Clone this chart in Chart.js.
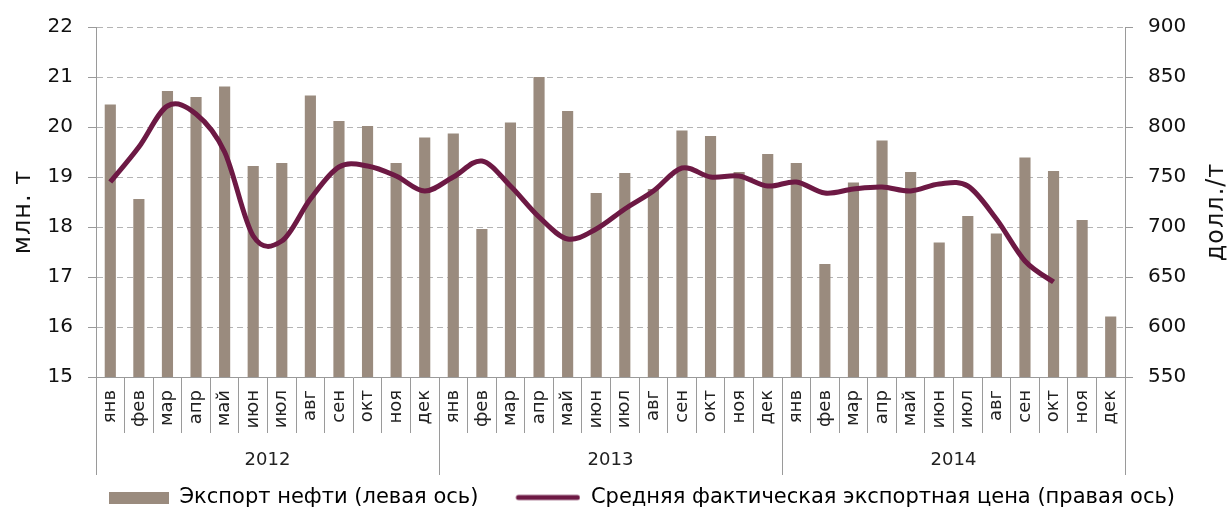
<!DOCTYPE html>
<html>
<head>
<meta charset="utf-8">
<script src="https://cdn.jsdelivr.net/npm/chart.js@4/dist/chart.umd.min.js"></script>
<style>
    html, body { margin: 0; padding: 0; background: #fff; }
</style>
</head>
<body>
<canvas id="oilChart" width="1232" height="515"></canvas>
<script>
const months = ['янв', 'фев', 'мар', 'апр', 'май', 'июн', 'июл', 'авг', 'сен', 'окт', 'ноя', 'дек'];
const years = ['2012', '2013', '2014'];

// экспорт нефти, млн. т (левая ось)
const exportVolume = [
    20.45, 18.56, 20.72, 20.60, 20.81, 19.22, 19.28, 20.63, 20.12, 20.02, 19.28, 19.79,
    19.87, 17.96, 20.09, 21.00, 20.32, 18.68, 19.08, 18.76, 19.93, 19.82, 19.10, 19.46,
    19.28, 17.26, 18.89, 19.73, 19.10, 17.69, 18.22, 17.87, 19.39, 19.12, 18.14, 16.21
];

// средняя фактическая экспортная цена, долл./т (правая ось)
const exportPrice = [
    745, 780, 821, 813, 775, 691, 686, 728, 760, 761, 751, 736,
    750, 766, 741, 710, 688, 698, 718, 736, 759, 750, 751, 741,
    745, 734, 738, 740, 736, 743, 741, 708, 666, 645, null, null
];

const leftAxis = { min: 15, max: 22, step: 1, title: 'млн. т' };
const rightAxis = { min: 550, max: 900, step: 50, title: 'долл./т' };
const seriesNames = ['Экспорт нефти (левая ось)', 'Средняя фактическая экспортная цена (правая ось)'];

const labels = years.flatMap(() => months);

const FONT = 'DejaVu Sans';
const barColor = '#9a8b7e';
const lineColor = '#6d1944';
const axisColor = '#9a9a9a';

// legend icons
function makeIcon(kind) {
    const c = document.createElement('canvas');
    c.width = 92;
    c.height = 12;
    const g = c.getContext('2d');
    if (kind === 'bar') {
        g.fillStyle = barColor;
        g.fillRect(32, 0, 60, 12);
    } else {
        g.strokeStyle = lineColor;
        g.lineWidth = 5;
        g.lineCap = 'round';
        g.beginPath();
        g.moveTo(30, 6);
        g.lineTo(89, 6);
        g.stroke();
    }
    return c;
}
const barIcon = makeIcon('bar');
const lineIcon = makeIcon('line');

// smoothing like the office charts: uniform catmull-rom control points
const smoothPlugin = {
    id: 'smooth',
    beforeDatasetDraw(chart, args) {
        const meta = args.meta;
        if (meta.type !== 'line') return;
        const line = meta.dataset;
        line.updateControlPoints(chart.chartArea);
        const pts = meta.data.filter(p => !p.skip);
        pts.forEach((p, i) => {
            const a = pts[i - 1] || p;
            const b = pts[i + 1] || p;
            const dx = (b.x - a.x) / 6;
            const dy = (b.y - a.y) / 6;
            p.cp1x = p.x - dx;
            p.cp1y = p.y - dy;
            p.cp2x = p.x + dx;
            p.cp2y = p.y + dy;
        });
        line._path = undefined;
    }
};

const framePlugin = {
    id: 'frame',
    afterDraw(chart) {
        const ctx = chart.ctx;
        const area = chart.chartArea;
        const n = labels.length;
        const step = (area.right - area.left) / n;
        const bottom = area.bottom + 98;

        ctx.save();
        ctx.strokeStyle = axisColor;
        ctx.lineWidth = 1;
        for (let k = 0; k <= n; k += months.length) {
            const x = Math.round(area.left + k * step) + 0.5;
            ctx.beginPath();
            ctx.moveTo(x, area.bottom);
            ctx.lineTo(x, bottom);
            ctx.stroke();
        }

        ctx.fillStyle = '#222';
        ctx.font = '18px "' + FONT + '"';
        ctx.textAlign = 'center';
        ctx.textBaseline = 'middle';
        years.forEach((y, i) => {
            const x = area.left + (i * months.length + months.length / 2) * step;
            ctx.fillText(y, x, area.bottom + 83);
        });

        // axis titles, both read from bottom to top
        ctx.fillStyle = '#111';
        ctx.font = '24px "' + FONT + '"';
        ctx.letterSpacing = '1px';
        ctx.textBaseline = 'alphabetic';
        const midY = (area.top + area.bottom) / 2 + 10;
        [[30, leftAxis.title], [1223, rightAxis.title]].forEach(([x, t]) => {
            ctx.save();
            ctx.translate(x, midY);
            ctx.rotate(-Math.PI / 2);
            ctx.fillText(t, 0, 0);
            ctx.restore();
        });
        ctx.restore();
    }
};

new Chart(document.getElementById('oilChart'), {
    type: 'bar',
    data: {
        labels: labels,
        datasets: [{
            type: 'bar',
            label: seriesNames[0],
            data: exportVolume,
            yAxisID: 'y',
            backgroundColor: barColor,
            categoryPercentage: 1,
            barPercentage: 0.39,
            order: 1
        }, {
            type: 'line',
            label: seriesNames[1],
            data: exportPrice,
            yAxisID: 'y2',
            borderColor: lineColor,
            borderWidth: 5,
            tension: 0.33,
            pointRadius: 0,
            fill: false,
            order: 0
        }]
    },
    options: {
        responsive: false,
        devicePixelRatio: 1,
        animation: false,
        layout: { padding: { top: 22, left: 20, right: 0, bottom: -3 } },
        plugins: {
            tooltip: { enabled: false },
            legend: {
                position: 'bottom',
                labels: {
                    usePointStyle: true,
                    pointStyleWidth: 92,
                    padding: 10,
                    color: '#111',
                    font: { family: FONT, size: 21 },
                    generateLabels: () => [
                        { text: seriesNames[0], pointStyle: barIcon, datasetIndex: 0, hidden: false, lineWidth: 0 },
                        { text: seriesNames[1], pointStyle: lineIcon, datasetIndex: 1, hidden: false, lineWidth: 0 }
                    ]
                }
            }
        },
        scales: {
            x: {
                offset: true,
                grid: {
                    offset: true,
                    drawOnChartArea: false,
                    tickLength: 56,
                    color: axisColor
                },
                border: { color: axisColor },
                ticks: {
                    autoSkip: false,
                    minRotation: 90,
                    maxRotation: 90,
                    padding: -43,
                    color: '#222',
                    font: { family: FONT, size: 18 }
                },
                afterFit(scale) { scale.height = 100; }
            },
            y: {
                position: 'left',
                min: leftAxis.min,
                max: leftAxis.max,
                ticks: {
                    stepSize: leftAxis.step,
                    padding: 15,
                    color: '#111',
                    font: { family: FONT, size: 20 }
                },
                grid: { color: '#b4b4b4', tickLength: 8, tickColor: axisColor },
                border: { color: axisColor, dash: [6, 4] },
                afterFit(scale) { scale.width = 76; }
            },
            y2: {
                position: 'right',
                min: rightAxis.min,
                max: rightAxis.max,
                ticks: {
                    stepSize: rightAxis.step,
                    padding: 15,
                    color: '#111',
                    font: { family: FONT, size: 20 }
                },
                grid: { drawOnChartArea: false, tickLength: 8, color: axisColor },
                border: { color: axisColor },
                afterFit(scale) { scale.width = 107; }
            }
        }
    },
    plugins: [smoothPlugin, framePlugin]
});
</script>
</body>
</html>
